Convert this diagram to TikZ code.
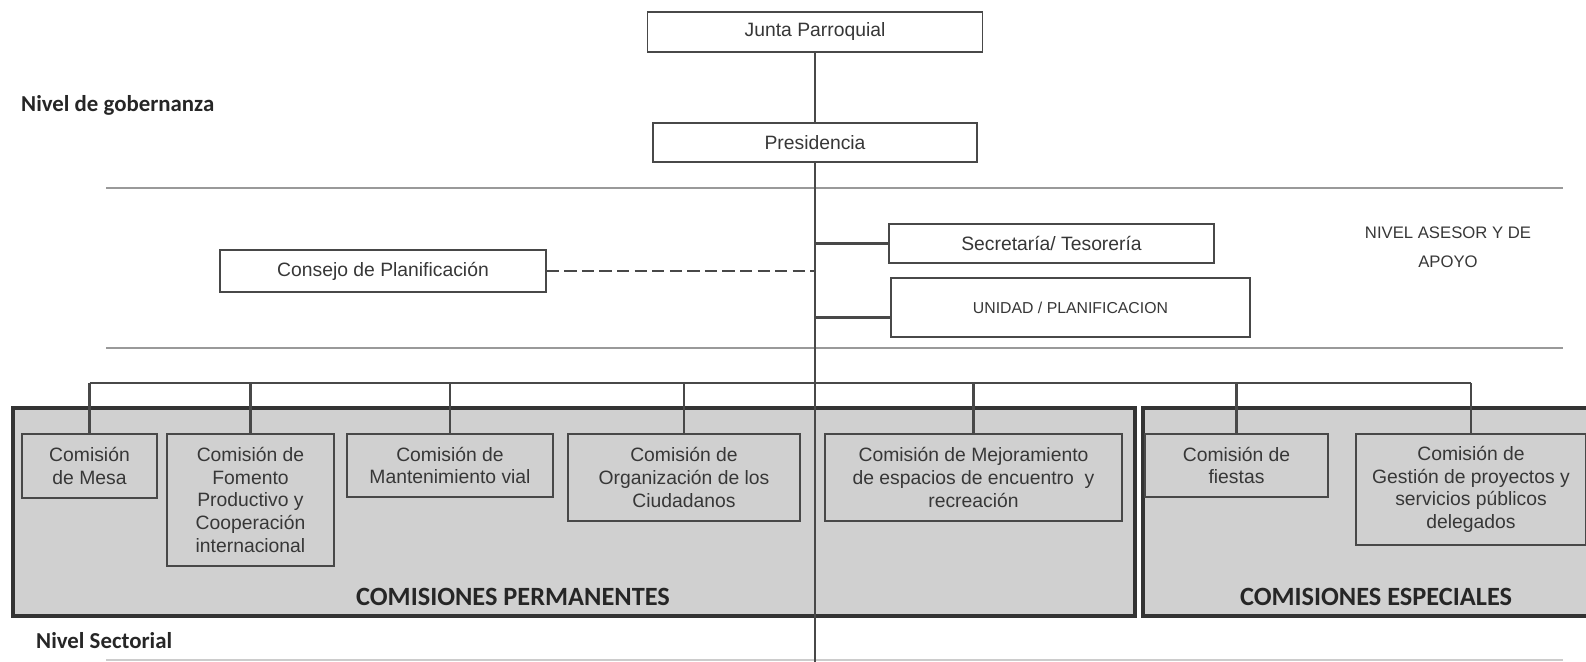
\documentclass[tikz,border=0pt]{standalone}
\usepackage{fontspec}
\setmainfont{Liberation Sans}
\newfontfamily\nivelfont{Carlito}
\usetikzlibrary{calc}
\definecolor{panelgray}{RGB}{208,208,208}
\definecolor{linegray}{RGB}{72,72,72}
\definecolor{textgray}{RGB}{55,55,55}

\begin{document}
\begin{tikzpicture}[x=0.02cm, y=-0.02cm,
    box/.style={draw=linegray, line width=0.9pt, fill=white, text=textgray, inner sep=0pt,
        align=center, font=\fontsize{11}{13}\selectfont},
    com/.style={draw=linegray, line width=1.1pt, fill=panelgray, text=textgray, inner sep=0pt,
        anchor=north, align=center, font=\fontsize{11}{13}\selectfont},
    panel/.style={draw=black!80, line width=2pt, fill=panelgray, inner sep=0pt},
    conn/.style={draw=linegray, line width=1.6pt},
    sep/.style={draw=black!40, line width=0.8pt},
    nivel/.style={anchor=west, text=black!85, font=\nivelfont\bfseries\fontsize{13}{15}\selectfont},
    titulo/.style={text=black!85, font=\nivelfont\bfseries\fontsize{15}{17}\selectfont}]
    \useasboundingbox (0,0) rectangle (1586,662);
    \clip (0,0) rectangle (1586,662);

    % niveles
    \draw[sep] (106,188) -- (1563,188);
    \draw[sep] (106,348) -- (1563,348);
    \draw[sep, draw=black!20] (106,660) -- (1563,660);
    \node[nivel] (gob) at (15,105) {Nivel de gobernanza};
    \node[nivel] (sect) at (30,641) {Nivel Sectorial};
    \node[align=center, text=textgray, font=\fontsize{9.5}{16.5}\selectfont] (asesor)
        at (1448,247.5) {NIVEL ASESOR Y DE\\APOYO};

    % comisiones
    \node[panel, minimum width=22.44cm, minimum height=4.16cm] (perm) at (574,512) {};
    \node[panel, minimum width=9.14cm, minimum height=4.16cm] (espe) at (1371.5,512) {};
    \node[titulo] (permtit) at (513,597) {COMISIONES PERMANENTES};
    \node[titulo] (espetit) at (1376,597) {COMISIONES ESPECIALES};

    \node[box, minimum width=6.7cm, minimum height=0.8cm] (junta) at (815,32) {Junta Parroquial};
    \node[box, minimum width=6.48cm, minimum height=0.78cm] (pres) at (815,142.5) {Presidencia};
    \node[box, minimum width=6.5cm, minimum height=0.78cm] (secre) at (1051.5,243.5) {Secretaría/ Tesorería};
    \node[box, minimum width=7.18cm, minimum height=1.18cm, font=\fontsize{9}{11}\selectfont] (unidad)
        at (1070.5,307.5) {UNIDAD / PLANIFICACION};
    \node[box, minimum width=6.52cm, minimum height=0.84cm] (consejo) at (383,271) {Consejo de Planificación};

    \node[com, minimum width=2.7cm, minimum height=1.28cm] (mesa) at (89.5,433) {Comisión\\de Mesa};
    \node[com, minimum width=3.34cm, minimum height=2.64cm] (fomento) at (250.5,433)
        {Comisión de\\Fomento\\Productivo y\\Cooperación\\internacional};
    \node[com, minimum width=4.12cm, minimum height=1.26cm] (manten) at (450,433) {Comisión de\\Mantenimiento vial};
    \node[com, minimum width=4.64cm, minimum height=1.74cm] (organiz) at (684,433)
        {Comisión de\\Organización de los\\Ciudadanos};
    \node[com, minimum width=5.94cm, minimum height=1.74cm] (mejora) at (973.5,433)
        {Comisión de Mejoramiento\\de espacios de encuentro~ y\\recreación};
    \node[com, minimum width=3.66cm, minimum height=1.26cm] (fiestas) at (1236.5,433) {Comisión de\\fiestas};
    \node[com, minimum width=4.6cm, minimum height=2.22cm] (gestion) at (1471,433)
        {Comisión de\\Gestión de proyectos y\\servicios públicos\\delegados};

    % lineas
    \coordinate (fondo) at (815,662);
    \coordinate (bus) at (815,383);
    \coordinate (uin) at ($(unidad.south west)+(0,-20)$);
    \draw[conn] (junta) -- (pres);
    \draw[conn] (pres.south) -- (fondo);
    \draw[conn] (secre.west) -- (secre.west -| pres.south);
    \draw[conn] (uin) -- (uin -| pres.south);
    \draw[conn, dash pattern=on 7pt off 3pt] (consejo.east) -- (consejo.east -| pres.south);
    \draw[conn] (mesa.north |- bus) -- (gestion.north |- bus);
    \foreach \c in {mesa,fomento,manten,organiz,mejora,fiestas,gestion}
        \draw[conn] (\c.north) -- (\c.north |- bus);
\end{tikzpicture}
\end{document}
